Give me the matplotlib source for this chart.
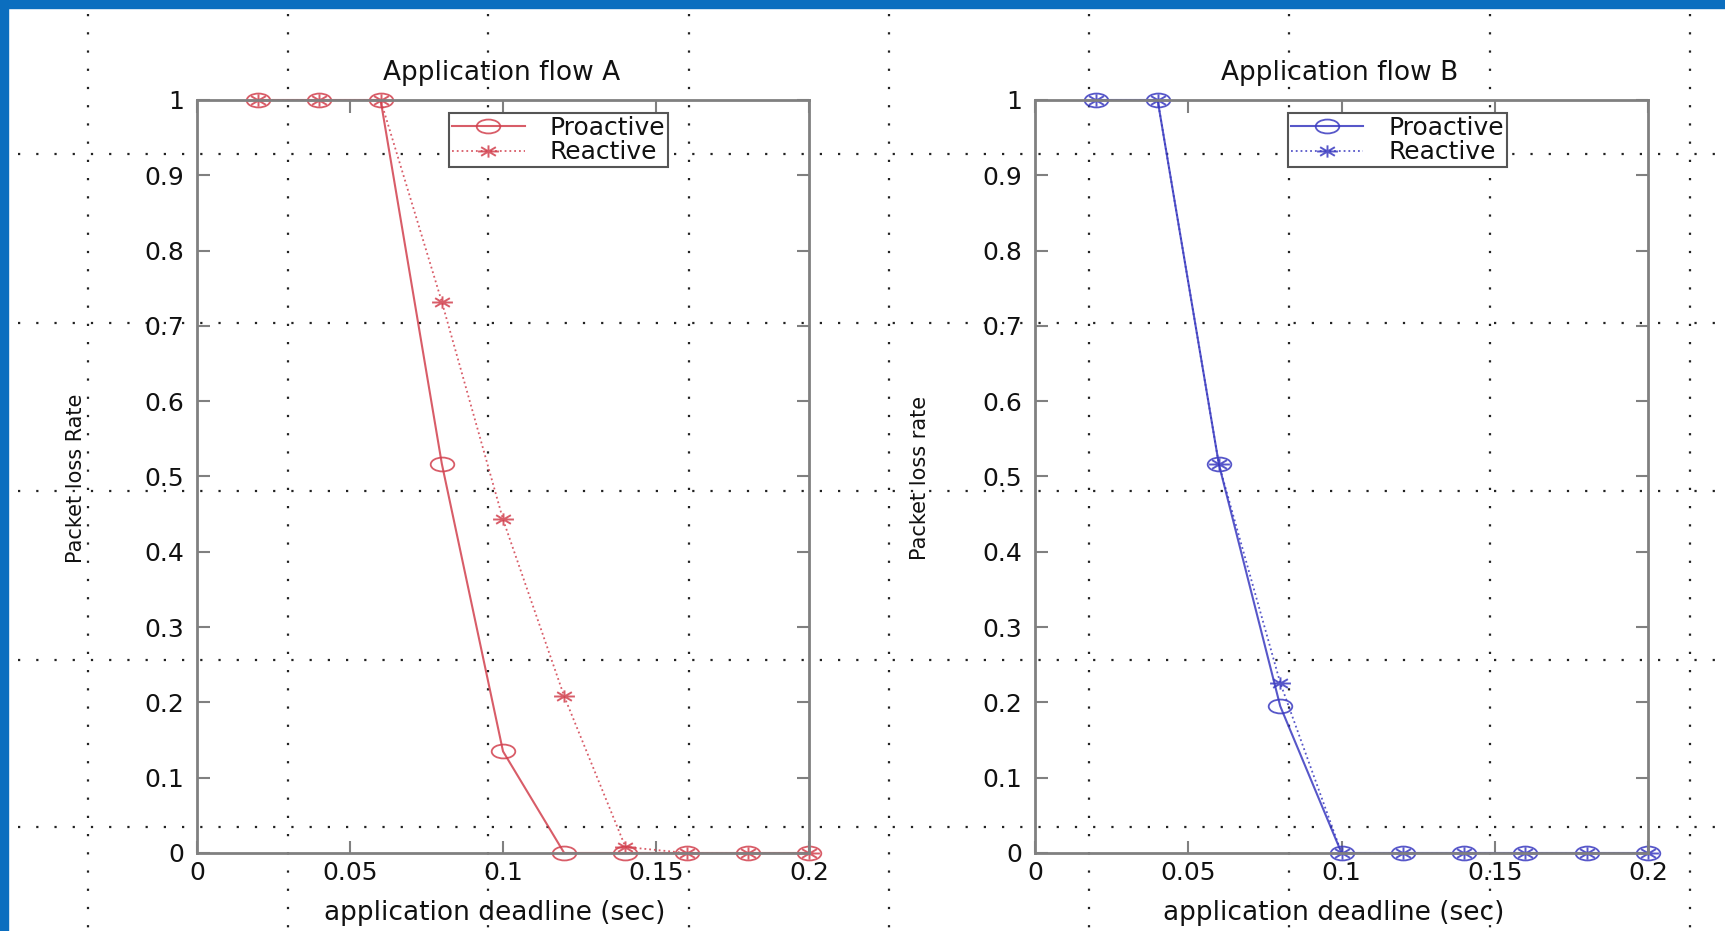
import numpy as np
import matplotlib
matplotlib.use('Agg')
import matplotlib.pyplot as plt
from matplotlib.path import Path
from matplotlib.patches import Rectangle
from matplotlib.transforms import Affine2D

# data
deadline = [0.02, 0.04, 0.06, 0.08, 0.10, 0.12, 0.14, 0.16, 0.18, 0.20]
loss_a_proactive = [1.0, 1.0, 1.0, 0.517, 0.135, 0.0, 0.0, 0.0, 0.0, 0.0]
loss_a_reactive = [1.0, 1.0, 1.0, 0.732, 0.443, 0.208, 0.008, 0.0, 0.0, 0.0]
loss_b_proactive = [1.0, 1.0, 0.516, 0.195, 0.0, 0.0, 0.0, 0.0, 0.0, 0.0]
loss_b_reactive = [1.0, 1.0, 0.516, 0.226, 0.0, 0.0, 0.0, 0.0, 0.0, 0.0]

x_ticks = [0, 0.05, 0.1, 0.15, 0.2]
x_ticklabels = ['0', '0.05', '0.1', '0.15', '0.2']
y_ticks = [0, 0.1, 0.2, 0.3, 0.4, 0.5, 0.6, 0.7, 0.8, 0.9, 1]
y_ticklabels = ['0', '0.1', '0.2', '0.3', '0.4', '0.5', '0.6', '0.7', '0.8', '0.9', '1']

plt.rcParams['font.family'] = ['DejaVu Sans']

# stretched marker shapes (the source image is stretched sideways)
ellipse = Path.unit_circle().transformed(Affine2D().scale(1.7, 1.0))
ang = np.arange(8) * np.pi / 4
verts, codes = [], []
for a in ang[:4]:
    verts += [(np.cos(a), np.sin(a)), (-np.cos(a), -np.sin(a))]
    codes += [Path.MOVETO, Path.LINETO]
asterisk = Path(verts, codes).transformed(Affine2D().scale(1.7, 1.0))

fig = plt.figure(figsize=(17.25, 9.31), dpi=100)

# slide background: blue border and dotted guide grid
bg = fig.add_axes([0, 0, 1, 1], zorder=0)
bg.set_xlim(0, 1725)
bg.set_ylim(931, 0)
bg.axis('off')
bg.add_patch(Rectangle((0, 0), 1725, 8, color='#0b6ebf'))
bg.add_patch(Rectangle((0, 0), 8, 931, color='#0b6ebf'))
for gx in [88, 288, 488, 689, 889, 1089, 1289, 1490, 1690]:
    bg.plot([gx, gx], [14, 931], color='#222222', lw=1.6, dashes=(1, 7.2))
for gy in [154, 323, 491, 660, 827]:
    bg.plot([18, 1725], [gy, gy], color='#222222', lw=1.6, dashes=(1, 7.2))

panels = [
    ([0.1142, 0.0838, 0.3548, 0.8088], 'Application flow A', 'Packet loss Rate',
     loss_a_proactive, loss_a_reactive, '#d2404e', -0.181),
    ([0.6, 0.0838, 0.3554, 0.8088], 'Application flow B', 'Packet loss rate',
     loss_b_proactive, loss_b_reactive, '#3a3ac0', -0.171),
]

txt = '#111111'
for rect, title, ylab, pro, rea, col, ylx in panels:
    ax = fig.add_axes(rect, zorder=1)
    ax.patch.set_alpha(0)
    ax.plot(deadline, pro, color=col, lw=1.5, alpha=0.85, marker=ellipse,
            markersize=17, markerfacecolor='none', markeredgewidth=1.3,
            clip_on=False, label='Proactive')
    ax.plot(deadline, rea, color=col, lw=1.3, linestyle=':', alpha=0.85,
            marker=asterisk, markersize=15, markeredgewidth=1.4,
            clip_on=False, label='Reactive')
    ax.set_xlim(0, 0.2)
    ax.set_ylim(0, 1)
    ax.set_xticks(x_ticks)
    ax.set_xticklabels(x_ticklabels)
    ax.set_yticks(y_ticks)
    ax.set_yticklabels(y_ticklabels)
    ax.tick_params(direction='in', length=9, width=1.5, color='#808080',
                   top=True, right=True, labelsize=18, labelcolor=txt)
    ax.tick_params(axis='x', pad=6)
    ax.tick_params(axis='y', pad=9)
    for sp in ax.spines.values():
        sp.set_color('#808080')
        sp.set_linewidth(2)
    ax.text(0.497, 1.036, title, transform=ax.transAxes, ha='center',
            va='center', fontsize=19, color=txt)
    ax.set_xlabel('application deadline (sec)', fontsize=19, color=txt)
    ax.xaxis.set_label_coords(0.487, -0.062)
    ax.set_ylabel(ylab, fontsize=15, color=txt)
    ax.yaxis.set_label_coords(ylx, 0.498)
    leg = ax.legend(loc='upper left', bbox_to_anchor=(0.412, 0.983),
                    fontsize=18, frameon=True, fancybox=False, borderpad=0.12,
                    labelspacing=0.02, handlelength=2.9, handletextpad=1.0,
                    borderaxespad=0, framealpha=1, labelcolor=txt)
    leg.get_frame().set_edgecolor('#555555')
    leg.get_frame().set_linewidth(1.5)

fig.savefig('out.png', dpi=100)
